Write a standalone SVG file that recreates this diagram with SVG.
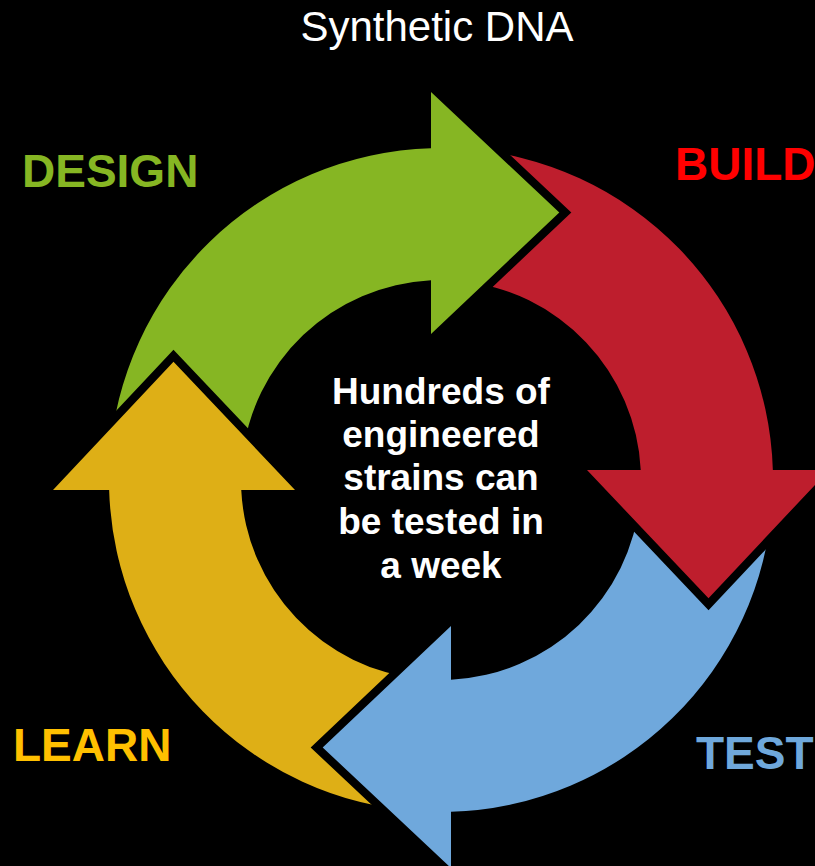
<svg xmlns="http://www.w3.org/2000/svg" xmlns:xlink="http://www.w3.org/1999/xlink" width="815" height="866" viewBox="0 0 815 866">
<defs>
<style>
.arrow{stroke:#000;stroke-width:16.5;stroke-linejoin:miter;stroke-miterlimit:10;paint-order:stroke fill}
.lbl{font-family:"Liberation Sans",Arial,Helvetica,sans-serif;font-weight:bold;font-size:46px}
.center{font-family:"Liberation Sans",Arial,Helvetica,sans-serif;font-weight:bold;font-size:37px;fill:#fff;text-anchor:middle}
.title{font-family:"Liberation Sans",Arial,Helvetica,sans-serif;font-size:42px;fill:#fff;text-anchor:middle}
</style>
<path id="arrowShape" d="M -331.4 -20 A 332 332 0 0 1 -10 -331.85 L -10 -388 L 118.3 -267.5 L -10 -146 L -10 -199.75 A 200 200 0 0 0 -199 -20 Z"/>
<clipPath id="topHalf"><rect x="0" y="0" width="440" height="560"/></clipPath>
</defs>
<rect x="0" y="0" width="815" height="866" fill="#000"/>
<g id="connectors">
<use id="arrow-learn" xlink:href="#arrowShape" href="#arrowShape" class="arrow" fill="#DEAF16" transform="translate(441 480) rotate(-90)"/>
<use id="arrow-test" xlink:href="#arrowShape" href="#arrowShape" class="arrow" fill="#6FA8DC" transform="translate(441 480) rotate(180)"/>
<use id="arrow-build" xlink:href="#arrowShape" href="#arrowShape" class="arrow" fill="#BE1E2D" transform="translate(441 480) rotate(90)"/>
<use id="arrow-design" xlink:href="#arrowShape" href="#arrowShape" class="arrow" fill="#86B623" transform="translate(441 480)"/>
<g clip-path="url(#topHalf)">
<use id="arrow-learn-head" xlink:href="#arrowShape" href="#arrowShape" class="arrow" fill="#DEAF16" transform="translate(441 480) rotate(-90)"/>
</g>
</g>
<g id="title"><text class="title" x="437" y="41">Synthetic DNA</text></g>
<g id="design"><text class="lbl" x="22" y="187" fill="#86B623">DESIGN</text></g>
<g id="build"><text class="lbl" x="675" y="179.5" fill="#FF0000">BUILD</text></g>
<g id="test"><text class="lbl" x="696" y="768.5" fill="#6FA8DC">TEST</text></g>
<g id="learn"><text class="lbl" x="13" y="761" fill="#FFC000">LEARN</text></g>
<g id="center-note">
<text class="center" x="441" y="403.5">Hundreds of</text>
<text class="center" x="441" y="446.5">engineered</text>
<text class="center" x="441" y="490">strains can</text>
<text class="center" x="441" y="534">be tested in</text>
<text class="center" x="441" y="578">a week</text>
</g>
</svg>
